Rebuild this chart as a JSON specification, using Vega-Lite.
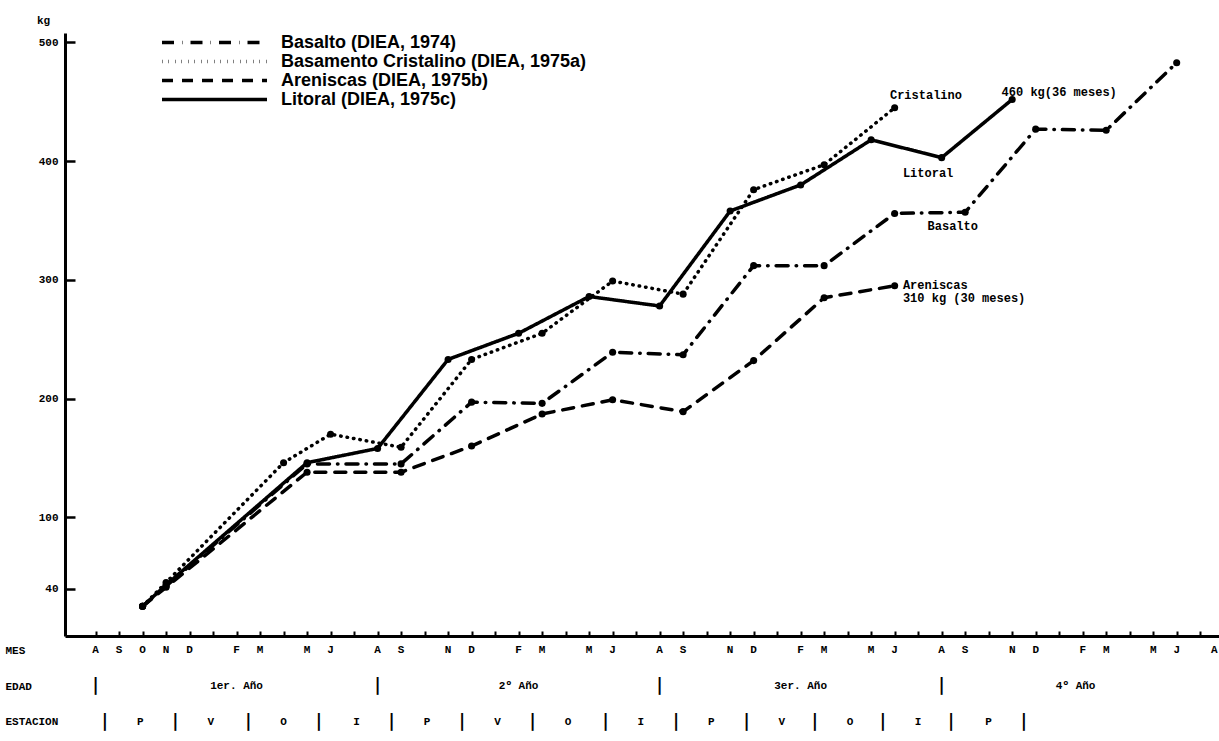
{
  "$schema": "https://vega.github.io/schema/vega-lite/v6.json",
  "padding": {"left": 5, "top": 14, "right": 0, "bottom": 0},
  "background": "white",
  "bounds": "flush",
  "spacing": 4,
  "config": {"view": {"stroke": null}},
  "datasets": {
    "series": [
      {"series": "Basalto (DIEA, 1974)", "month": 2, "kg": 25},
      {"series": "Basalto (DIEA, 1974)", "month": 3, "kg": 42},
      {"series": "Basalto (DIEA, 1974)", "month": 9, "kg": 145},
      {"series": "Basalto (DIEA, 1974)", "month": 13, "kg": 145},
      {"series": "Basalto (DIEA, 1974)", "month": 16, "kg": 197},
      {"series": "Basalto (DIEA, 1974)", "month": 19, "kg": 196},
      {"series": "Basalto (DIEA, 1974)", "month": 22, "kg": 239},
      {"series": "Basalto (DIEA, 1974)", "month": 25, "kg": 237},
      {"series": "Basalto (DIEA, 1974)", "month": 28, "kg": 312},
      {"series": "Basalto (DIEA, 1974)", "month": 31, "kg": 312},
      {"series": "Basalto (DIEA, 1974)", "month": 34, "kg": 356},
      {"series": "Basalto (DIEA, 1974)", "month": 37, "kg": 357},
      {"series": "Basalto (DIEA, 1974)", "month": 40, "kg": 427},
      {"series": "Basalto (DIEA, 1974)", "month": 43, "kg": 426},
      {"series": "Basalto (DIEA, 1974)", "month": 46, "kg": 483},
      {"series": "Basamento Cristalino (DIEA, 1975a)", "month": 2, "kg": 25},
      {"series": "Basamento Cristalino (DIEA, 1975a)", "month": 3, "kg": 45},
      {"series": "Basamento Cristalino (DIEA, 1975a)", "month": 8, "kg": 146},
      {"series": "Basamento Cristalino (DIEA, 1975a)", "month": 10, "kg": 170},
      {"series": "Basamento Cristalino (DIEA, 1975a)", "month": 13, "kg": 159},
      {"series": "Basamento Cristalino (DIEA, 1975a)", "month": 16, "kg": 233},
      {"series": "Basamento Cristalino (DIEA, 1975a)", "month": 19, "kg": 255},
      {"series": "Basamento Cristalino (DIEA, 1975a)", "month": 22, "kg": 299},
      {"series": "Basamento Cristalino (DIEA, 1975a)", "month": 25, "kg": 288},
      {"series": "Basamento Cristalino (DIEA, 1975a)", "month": 28, "kg": 376},
      {"series": "Basamento Cristalino (DIEA, 1975a)", "month": 31, "kg": 397},
      {"series": "Basamento Cristalino (DIEA, 1975a)", "month": 34, "kg": 445},
      {"series": "Areniscas (DIEA, 1975b)", "month": 2, "kg": 25},
      {"series": "Areniscas (DIEA, 1975b)", "month": 3, "kg": 41},
      {"series": "Areniscas (DIEA, 1975b)", "month": 9, "kg": 138},
      {"series": "Areniscas (DIEA, 1975b)", "month": 13, "kg": 138},
      {"series": "Areniscas (DIEA, 1975b)", "month": 16, "kg": 160},
      {"series": "Areniscas (DIEA, 1975b)", "month": 19, "kg": 187},
      {"series": "Areniscas (DIEA, 1975b)", "month": 22, "kg": 199},
      {"series": "Areniscas (DIEA, 1975b)", "month": 25, "kg": 189},
      {"series": "Areniscas (DIEA, 1975b)", "month": 28, "kg": 232},
      {"series": "Areniscas (DIEA, 1975b)", "month": 31, "kg": 285},
      {"series": "Areniscas (DIEA, 1975b)", "month": 34, "kg": 295},
      {"series": "Litoral (DIEA, 1975c)", "month": 2, "kg": 25},
      {"series": "Litoral (DIEA, 1975c)", "month": 3, "kg": 43},
      {"series": "Litoral (DIEA, 1975c)", "month": 9, "kg": 146},
      {"series": "Litoral (DIEA, 1975c)", "month": 12, "kg": 158},
      {"series": "Litoral (DIEA, 1975c)", "month": 15, "kg": 233},
      {"series": "Litoral (DIEA, 1975c)", "month": 18, "kg": 255},
      {"series": "Litoral (DIEA, 1975c)", "month": 21, "kg": 286},
      {"series": "Litoral (DIEA, 1975c)", "month": 24, "kg": 278},
      {"series": "Litoral (DIEA, 1975c)", "month": 27, "kg": 358},
      {"series": "Litoral (DIEA, 1975c)", "month": 30, "kg": 380},
      {"series": "Litoral (DIEA, 1975c)", "month": 33, "kg": 418},
      {"series": "Litoral (DIEA, 1975c)", "month": 36, "kg": 403},
      {"series": "Litoral (DIEA, 1975c)", "month": 39, "kg": 452}
    ],
    "notes": [
      {"label": "Cristalino", "month": 33.8, "kg": 456},
      {"label": "460 kg(36 meses)", "month": 38.55, "kg": 458},
      {"label": "Litoral", "month": 34.35, "kg": 390},
      {"label": "Basalto", "month": 35.4, "kg": 345},
      {"label": "Areniscas", "month": 34.35, "kg": 296},
      {"label": "310 kg (30 meses)", "month": 34.35, "kg": 285}
    ],
    "rows": [
      {"row": "MES", "month": 0, "label": "A"},
      {"row": "MES", "month": 1, "label": "S"},
      {"row": "MES", "month": 2, "label": "O"},
      {"row": "MES", "month": 3, "label": "N"},
      {"row": "MES", "month": 4, "label": "D"},
      {"row": "MES", "month": 6, "label": "F"},
      {"row": "MES", "month": 7, "label": "M"},
      {"row": "MES", "month": 9, "label": "M"},
      {"row": "MES", "month": 10, "label": "J"},
      {"row": "MES", "month": 12, "label": "A"},
      {"row": "MES", "month": 13, "label": "S"},
      {"row": "MES", "month": 15, "label": "N"},
      {"row": "MES", "month": 16, "label": "D"},
      {"row": "MES", "month": 18, "label": "F"},
      {"row": "MES", "month": 19, "label": "M"},
      {"row": "MES", "month": 21, "label": "M"},
      {"row": "MES", "month": 22, "label": "J"},
      {"row": "MES", "month": 24, "label": "A"},
      {"row": "MES", "month": 25, "label": "S"},
      {"row": "MES", "month": 27, "label": "N"},
      {"row": "MES", "month": 28, "label": "D"},
      {"row": "MES", "month": 30, "label": "F"},
      {"row": "MES", "month": 31, "label": "M"},
      {"row": "MES", "month": 33, "label": "M"},
      {"row": "MES", "month": 34, "label": "J"},
      {"row": "MES", "month": 36, "label": "A"},
      {"row": "MES", "month": 37, "label": "S"},
      {"row": "MES", "month": 39, "label": "N"},
      {"row": "MES", "month": 40, "label": "D"},
      {"row": "MES", "month": 42, "label": "F"},
      {"row": "MES", "month": 43, "label": "M"},
      {"row": "MES", "month": 45, "label": "M"},
      {"row": "MES", "month": 46, "label": "J"},
      {"row": "MES", "month": 47.6, "label": "A"},
      {"row": "EDAD", "month": 0, "label": "|"},
      {"row": "EDAD", "month": 6, "label": "1er. Año"},
      {"row": "EDAD", "month": 12, "label": "|"},
      {"row": "EDAD", "month": 18, "label": "2º Año"},
      {"row": "EDAD", "month": 24, "label": "|"},
      {"row": "EDAD", "month": 30, "label": "3er. Año"},
      {"row": "EDAD", "month": 36, "label": "|"},
      {"row": "EDAD", "month": 41.7, "label": "4º Año"},
      {"row": "ESTACION", "month": 0.4, "label": "|"},
      {"row": "ESTACION", "month": 1.9, "label": "P"},
      {"row": "ESTACION", "month": 3.4, "label": "|"},
      {"row": "ESTACION", "month": 4.9, "label": "V"},
      {"row": "ESTACION", "month": 6.5, "label": "|"},
      {"row": "ESTACION", "month": 8.0, "label": "O"},
      {"row": "ESTACION", "month": 9.5, "label": "|"},
      {"row": "ESTACION", "month": 11.1, "label": "I"},
      {"row": "ESTACION", "month": 12.6, "label": "|"},
      {"row": "ESTACION", "month": 14.1, "label": "P"},
      {"row": "ESTACION", "month": 15.6, "label": "|"},
      {"row": "ESTACION", "month": 17.1, "label": "V"},
      {"row": "ESTACION", "month": 18.6, "label": "|"},
      {"row": "ESTACION", "month": 20.1, "label": "O"},
      {"row": "ESTACION", "month": 21.7, "label": "|"},
      {"row": "ESTACION", "month": 23.2, "label": "I"},
      {"row": "ESTACION", "month": 24.7, "label": "|"},
      {"row": "ESTACION", "month": 26.2, "label": "P"},
      {"row": "ESTACION", "month": 27.7, "label": "|"},
      {"row": "ESTACION", "month": 29.2, "label": "V"},
      {"row": "ESTACION", "month": 30.6, "label": "|"},
      {"row": "ESTACION", "month": 32.1, "label": "O"},
      {"row": "ESTACION", "month": 33.5, "label": "|"},
      {"row": "ESTACION", "month": 35.0, "label": "I"},
      {"row": "ESTACION", "month": 36.4, "label": "|"},
      {"row": "ESTACION", "month": 38.0, "label": "P"},
      {"row": "ESTACION", "month": 39.5, "label": "|"}
    ]
  },
  "vconcat": [
    {
      "width": 1154,
      "height": 603,
      "encoding": {
        "x": {
          "field": "month", "type": "quantitative",
          "scale": {"domain": [-1.3, 47.8], "nice": false, "zero": false},
          "axis": {
            "values": [0,1,2,3,4,5,6,7,8,9,10,11,12,13,14,15,16,17,18,19,20,21,22,23,24,25,26,27,28,29,30,31,32,33,34,35,36,37,38,39,40,41,42,43,44,45,46,47],
            "labels": false, "title": null, "grid": false,
            "tickSize": -5, "tickWidth": 2, "tickColor": "black",
            "domainColor": "black", "domainWidth": 3
          }
        },
        "y": {
          "field": "kg", "type": "quantitative",
          "scale": {"domain": [0, 508], "nice": false},
          "axis": {
            "values": [40, 100, 200, 300, 400, 500],
            "title": "kg", "titleAngle": 0, "titleX": -22, "titleY": -13,
            "titleAlign": "center", "titleBaseline": "middle",
            "titleFont": "Liberation Mono", "titleFontWeight": "bold", "titleFontSize": 11, "titleColor": "black",
            "grid": false, "tickSize": -10, "tickWidth": 2.5, "tickColor": "black",
            "domainColor": "black", "domainWidth": 3,
            "labelFont": "Liberation Mono", "labelFontWeight": "bold", "labelFontSize": 11,
            "labelColor": "black", "labelPadding": 17
          }
        }
      },
      "layer": [
        {
          "data": {"name": "series"},
          "mark": {"type": "line", "stroke": "black", "strokeWidth": 3.5, "strokeCap": "round"},
          "encoding": {
            "strokeDash": {
              "field": "series", "type": "nominal",
              "scale": {
                "domain": ["Basalto (DIEA, 1974)", "Basamento Cristalino (DIEA, 1975a)", "Areniscas (DIEA, 1975b)", "Litoral (DIEA, 1975c)"],
                "range": [[12, 8, 0.5, 8], [0.5, 6], [11, 9], [1, 0]]
              },
              "legend": {
                "title": null, "orient": "none", "legendX": 95, "legendY": 1,
                "symbolType": "stroke", "symbolSize": 11025, "symbolStrokeWidth": 3.5,
                "symbolStrokeColor": "black", "clipHeight": 17, "rowPadding": 0, "padding": 0,
                "labelFont": "Liberation Sans", "labelFontWeight": "bold", "labelFontSize": 18,
                "labelColor": "black", "labelOffset": 12, "labelLimit": 500
              }
            }
          }
        },
        {
          "data": {"name": "series"},
          "mark": {"type": "circle", "size": 50, "color": "black", "opacity": 1},
          "encoding": {"detail": {"field": "series", "type": "nominal"}}
        },
        {
          "data": {"name": "notes"},
          "mark": {"type": "text", "align": "left", "baseline": "middle", "font": "Liberation Mono", "fontWeight": "bold", "fontSize": 12, "color": "black"},
          "encoding": {"text": {"field": "label"}}
        }
      ]
    },
    {
      "width": 1154,
      "height": 92,
      "data": {"name": "rows"},
      "encoding": {
        "x": {
          "field": "month", "type": "quantitative",
          "scale": {"domain": [-1.3, 47.8], "nice": false, "zero": false},
          "axis": null
        },
        "y": {
          "field": "row", "type": "nominal",
          "scale": {"type": "point", "domain": ["MES", "EDAD", "ESTACION"], "padding": 0.28},
          "axis": {
            "title": null, "domain": false, "ticks": false, "labelAlign": "left", "labelPadding": 60,
            "labelFont": "Liberation Mono", "labelFontWeight": "bold", "labelFontSize": 11, "labelColor": "black"
          }
        },
        "text": {"field": "label"}
      },
      "layer": [
        {
          "transform": [{"filter": "datum.label !== '|'"}],
          "mark": {"type": "text", "font": "Liberation Mono", "fontWeight": "bold", "fontSize": 11, "color": "black", "baseline": "middle"}
        },
        {
          "transform": [{"filter": "datum.label === '|'"}],
          "mark": {"type": "text", "font": "DejaVu Sans", "fontWeight": "bold", "fontSize": 17, "color": "black", "baseline": "middle"}
        }
      ]
    }
  ]
}
